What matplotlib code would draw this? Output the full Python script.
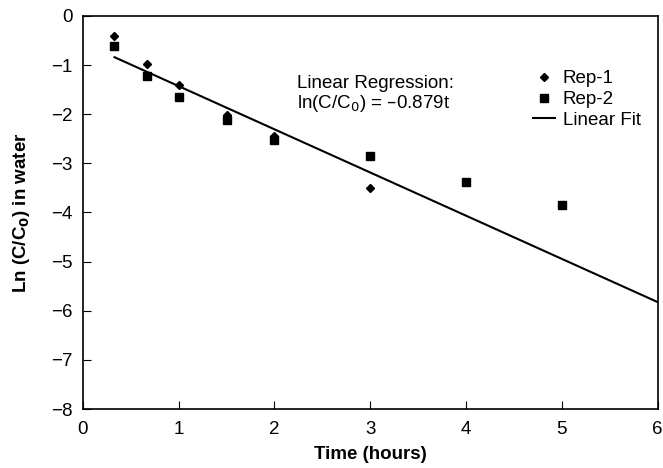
import matplotlib
matplotlib.use('Agg')
import matplotlib.pyplot as plt
import numpy as np

plt.rcParams['font.family'] = ['Liberation Sans', 'DejaVu Sans']

# Datos
tiempo = [0.33, 0.67, 1.0, 1.5, 2.0, 3.0]
rep1 = [-0.40, -0.98, -1.40, -2.02, -2.45, -3.50]
tiempo2 = [0.33, 0.67, 1.0, 1.5, 2.0, 3.0, 4.0, 5.0]
rep2 = [-0.62, -1.23, -1.66, -2.11, -2.53, -2.85, -3.37, -3.84]

# Ajuste lineal
pendiente = -0.879
intercepto = -0.55
t_ajuste = np.array([0.33, 6.0])
y_ajuste = pendiente * t_ajuste + intercepto

fig = plt.figure(figsize=(6.63, 4.68), dpi=100)
ax = fig.add_axes([0.125, 0.126, 0.867, 0.840])

ax.plot(tiempo, rep1, linestyle='none', marker='D', markersize=4, color='black', label='Rep-1')
ax.plot(tiempo2, rep2, linestyle='none', marker='s', markersize=6, color='black', label='Rep-2')
ax.plot(t_ajuste, y_ajuste, linestyle='-', color='black', linewidth=1.5, label='Linear Fit')

ax.set_xlim(0, 6)
ax.set_ylim(-8, 0)
ax.set_xticks(range(0, 7))
ax.set_yticks(range(-8, 1))
ax.tick_params(direction='in', length=6, labelsize=13.5)
ax.tick_params(axis='x', pad=8.5)
ax.tick_params(axis='y', pad=7.5)
for s in ax.spines.values():
    s.set_linewidth(1.2)

ax.set_xlabel("Time (hours)", fontsize=13.5, fontweight='bold', labelpad=6)
ax.set_ylabel("Ln (C/C$_\\mathbf{0}$) in water", fontsize=13.5, fontweight='bold', labelpad=14)

ax.text(2.23, -1.2, "Linear Regression:\nln(C/C$_0$) = \u20130.879t", fontsize=13.5,
        va='top', ha='left', linespacing=1.1)

ax.legend(loc='upper right', frameon=False, fontsize=13.5, handlelength=1.2,
          handletextpad=0.4, labelspacing=0.2, bbox_to_anchor=(1.0, 0.905))

plt.savefig('out.png', dpi=100)
